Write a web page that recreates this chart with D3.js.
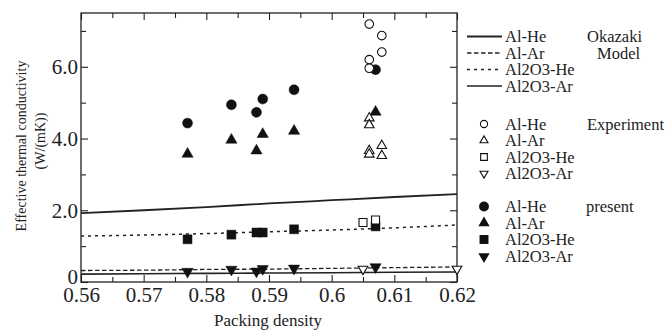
<!DOCTYPE html>
<html>
<head>
<meta charset="utf-8">
<script src="https://cdn.jsdelivr.net/npm/d3@7"></script>
<style>
  body { margin: 0; background: #fff; }
  svg text { font-family: "Liberation Serif", "Times New Roman", Times, serif; fill: #222; }
</style>
</head>
<body>
<div id="display"></div>
<script>
// model curves (Okazaki)
var modelX = [0.56, 0.57, 0.58, 0.59, 0.60, 0.61, 0.62];
var modelAlHe = [1.92, 2.00, 2.09, 2.19, 2.28, 2.37, 2.45];
var modelAlAr = [0.32, 0.33, 0.35, 0.36, 0.38, 0.40, 0.42];
var modelAl2O3He = [1.28, 1.31, 1.35, 1.40, 1.45, 1.51, 1.59];
var modelAl2O3Ar = [0.22, 0.23, 0.24, 0.25, 0.26, 0.27, 0.28];

// experiment points
var expAlHeX = [0.606, 0.608, 0.608, 0.606, 0.606];
var expAlHeY = [7.19, 6.87, 6.41, 6.20, 5.96];
var expAlArX = [0.606, 0.606, 0.606, 0.606, 0.608, 0.608];
var expAlArY = [4.57, 4.38, 3.66, 3.56, 3.80, 3.52];
var expAl2O3HeX = [0.605, 0.607];
var expAl2O3HeY = [1.66, 1.73];
var expAl2O3ArX = [0.605, 0.620];
var expAl2O3ArY = [0.36, 0.36];

// present points
var presX = [0.577, 0.584, 0.588, 0.589, 0.594, 0.607];
var presAlHe = [4.43, 4.94, 4.73, 5.10, 5.36, 5.92];
var presAlAr = [3.57, 3.96, 3.66, 4.12, 4.21, 4.74];
var presAl2O3He = [1.19, 1.32, 1.38, 1.38, 1.47, 1.55];
var presAl2O3Ar = [0.29, 0.35, 0.30, 0.37, 0.38, 0.42];

var xTicks = [0.56, 0.57, 0.58, 0.59, 0.60, 0.61, 0.62];
var xMinor = [0.565, 0.575, 0.585, 0.595, 0.605, 0.615];
var yTicks = [0, 2, 4, 6];
var yMinor = [1, 3, 5, 7];
var xLabels = ["0.56", "0.57", "0.58", "0.59", "0.6", "0.61", "0.62"];
var seriesNames = ["Al-He", "Al-Ar", "Al2O3-He", "Al2O3-Ar"];

var W = 665, H = 333;
var pL = 81, pR = 457, pT = 13, pB = 282;

var svg = d3.select("#display").append("svg")
    .attr("width", W).attr("height", H);

var x = d3.scaleLinear().domain([0.56, 0.62]).range([pL, pR]);
var y = d3.scaleLinear().domain([0, 7.5]).range([pB, pT]);

// axes, ticks inward
function tickAxis(axis, g) {
  g.call(axis);
  g.select(".domain").remove();
  g.selectAll(".tick line").attr("stroke", "#222").attr("stroke-width", 1.1);
}
tickAxis(d3.axisBottom(x).tickValues(xTicks).tickSize(-7).tickPadding(5)
    .tickFormat(function(d, i) { return xLabels[i]; }),
  svg.append("g").attr("transform", "translate(0," + pB + ")"));
tickAxis(d3.axisBottom(x).tickValues(xMinor).tickSize(-5).tickFormat(""),
  svg.append("g").attr("transform", "translate(0," + pB + ")"));
tickAxis(d3.axisTop(x).tickValues(xTicks).tickSize(-7).tickFormat(""),
  svg.append("g").attr("transform", "translate(0," + pT + ")"));
tickAxis(d3.axisTop(x).tickValues(xMinor).tickSize(-5).tickFormat(""),
  svg.append("g").attr("transform", "translate(0," + pT + ")"));
var yAxisG = svg.append("g").attr("transform", "translate(" + pL + ",0)");
tickAxis(d3.axisLeft(y).tickValues(yTicks).tickSize(-7).tickPadding(3)
    .tickFormat(function(d) { return d === 0 ? "0" : d3.format(".1f")(d); }),
  yAxisG);
// the "0" label sits a little above the corner
yAxisG.selectAll(".tick text").filter(function(d) { return d === 0; })
  .attr("dy", "0.05em");
tickAxis(d3.axisLeft(y).tickValues(yMinor).tickSize(-5).tickFormat(""),
  svg.append("g").attr("transform", "translate(" + pL + ",0)"));
tickAxis(d3.axisRight(y).tickValues(yTicks).tickSize(-7).tickFormat(""),
  svg.append("g").attr("transform", "translate(" + pR + ",0)"));
tickAxis(d3.axisRight(y).tickValues(yMinor).tickSize(-5).tickFormat(""),
  svg.append("g").attr("transform", "translate(" + pR + ",0)"));

svg.selectAll(".tick text").style("font-size", "21px")
  .style("font-family", "Liberation Serif, Times New Roman, serif").attr("fill", "#222");

svg.append("rect").attr("x", pL).attr("y", pT)
  .attr("width", pR - pL).attr("height", pB - pT)
  .attr("fill", "none").attr("stroke", "#222").attr("stroke-width", 1.3);

// titles
svg.append("text").attr("transform", "translate(21,146) rotate(-90)")
  .attr("text-anchor", "middle").attr("dy", "0.35em")
  .style("font-size", "14px").text("Effective thermal conductivity");
svg.append("text").attr("transform", "translate(40,141) rotate(-90)")
  .attr("text-anchor", "middle").attr("dy", "0.35em")
  .style("font-size", "14px").text("(W/(mK))");
svg.append("text").attr("x", 268).attr("y", 326)
  .attr("text-anchor", "middle")
  .style("font-size", "17px").text("Packing density");

// model lines
var lineStyles = [
  { w: 1.8, dash: null },
  { w: 1.3, dash: "4.5,2.5" },
  { w: 1.5, dash: "3,4" },
  { w: 1.6, dash: null }
];
var models = [modelAlHe, modelAlAr, modelAl2O3He, modelAl2O3Ar];
var line = d3.line()
  .x(function(d) { return x(d[0]); })
  .y(function(d) { return y(d[1]); })
  .curve(d3.curveMonotoneX);

models.forEach(function(m, i) {
  svg.append("path")
    .datum(modelX.map(function(v, j) { return [v, m[j]]; }))
    .attr("d", line)
    .attr("fill", "none").attr("stroke", "#222")
    .attr("stroke-width", lineStyles[i].w)
    .attr("stroke-dasharray", lineStyles[i].dash);
});

// markers
var shapes = [
  { t: d3.symbolCircle, s: 58, rot: 0 },
  { t: d3.symbolTriangle, s: 40, rot: 0 },
  { t: d3.symbolSquare, s: 64, rot: 0 },
  { t: d3.symbolTriangle, s: 40, rot: 180 }
];
var fshapes = [
  { t: d3.symbolCircle, s: 78, rot: 0 },
  { t: d3.symbolTriangle, s: 55, rot: 0 },
  { t: d3.symbolSquare, s: 80, rot: 0 },
  { t: d3.symbolTriangle, s: 55, rot: 180 }
];

function drawPoints(xs, ys, sh, filled) {
  svg.append("g").selectAll("path")
    .data(xs.map(function(v, i) { return [v, ys[i]]; }))
    .enter().append("path")
    .attr("d", d3.symbol().type(sh.t).size(sh.s))
    .attr("transform", function(d) {
      return "translate(" + x(d[0]) + "," + y(d[1]) + ") rotate(" + sh.rot + ")";
    })
    .attr("fill", filled ? "#111" : "#fff")
    .attr("stroke", "#111").attr("stroke-width", filled ? 0.5 : 1.1);
}

drawPoints(presX, presAlHe, fshapes[0], true);
drawPoints(presX, presAlAr, fshapes[1], true);
drawPoints(presX, presAl2O3He, fshapes[2], true);
drawPoints(presX, presAl2O3Ar, fshapes[3], true);
drawPoints(expAlHeX, expAlHeY, shapes[0], false);
drawPoints(expAlArX, expAlArY, shapes[1], false);
drawPoints(expAl2O3HeX, expAl2O3HeY, shapes[2], false);
drawPoints(expAl2O3ArX, expAl2O3ArY, shapes[3], false);

// legend
var lg = svg.append("g");
var rowsModel = [36.5, 53, 69.5, 86];
var rowsExp = [124, 140.5, 157, 173.5];
var rowsPres = [206.5, 223, 239.5, 256.5];
var textX = 505;

seriesNames.forEach(function(n, i) {
  lg.append("line").attr("x1", 467).attr("x2", 502)
    .attr("y1", rowsModel[i]).attr("y2", rowsModel[i])
    .attr("stroke", "#222").attr("stroke-width", lineStyles[i].w)
    .attr("stroke-dasharray", lineStyles[i].dash);
  lg.append("text").attr("x", textX).attr("y", rowsModel[i]).attr("dy", "0.35em")
    .style("font-size", "16.5px").text(n);

  var sh = shapes[i];
  lg.append("path").attr("d", d3.symbol().type(sh.t).size(sh.s * 0.7))
    .attr("transform", "translate(484," + rowsExp[i] + ") rotate(" + sh.rot + ")")
    .attr("fill", "#fff").attr("stroke", "#111").attr("stroke-width", 1.1);
  lg.append("text").attr("x", textX).attr("y", rowsExp[i]).attr("dy", "0.35em")
    .style("font-size", "16.5px").text(n);

  var fs = fshapes[i];
  lg.append("path").attr("d", d3.symbol().type(fs.t).size(fs.s))
    .attr("transform", "translate(484," + rowsPres[i] + ") rotate(" + fs.rot + ")")
    .attr("fill", "#111");
  lg.append("text").attr("x", textX).attr("y", rowsPres[i]).attr("dy", "0.35em")
    .style("font-size", "16.5px").text(n);
});

lg.append("text").attr("x", 587).attr("y", rowsModel[0]).attr("dy", "0.35em")
  .style("font-size", "16.5px").text("Okazaki");
lg.append("text").attr("x", 597).attr("y", rowsModel[1]).attr("dy", "0.35em")
  .style("font-size", "16.5px").text("Model");
lg.append("text").attr("x", 587).attr("y", rowsExp[0]).attr("dy", "0.35em")
  .style("font-size", "16.5px").text("Experiment");
lg.append("text").attr("x", 586).attr("y", rowsPres[0]).attr("dy", "0.35em")
  .style("font-size", "16.5px").text("present");
</script>
</body>
</html>
